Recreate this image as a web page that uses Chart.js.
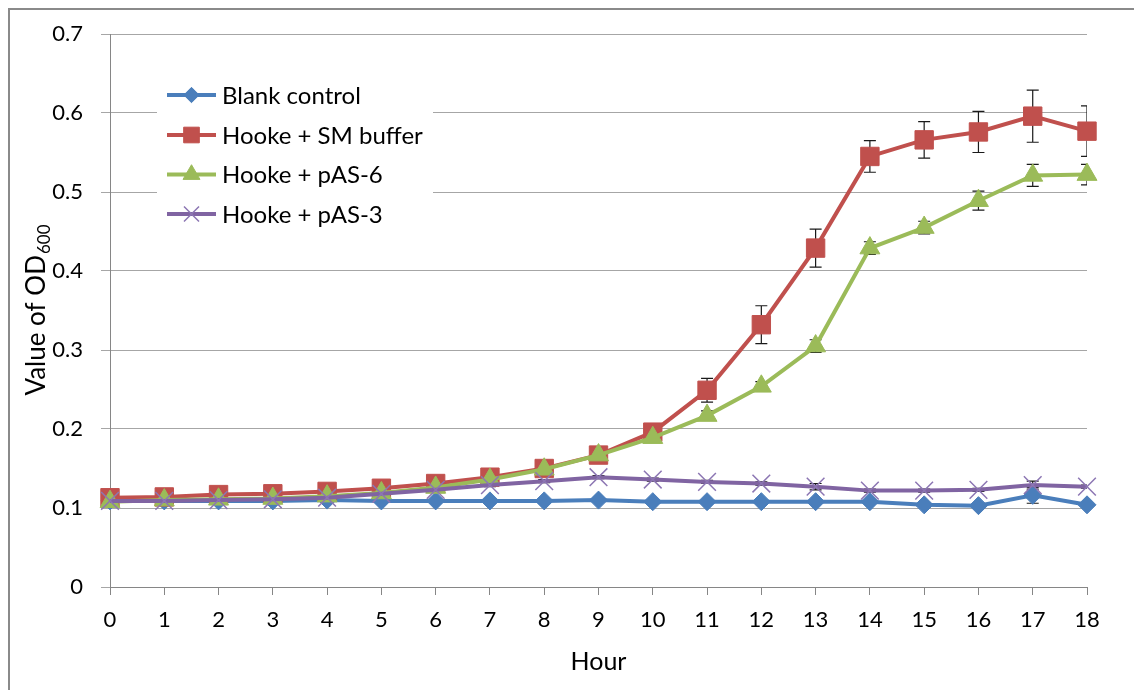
<!DOCTYPE html>
<html>
<head>
<meta charset="utf-8">
<title>OD600 growth curves</title>
<script src="https://cdn.jsdelivr.net/npm/chart.js@4/dist/chart.umd.min.js"></script>
<style>
  html, body { margin: 0; padding: 0; background: #ffffff; }
  #wrap { position: relative; width: 1134px; height: 690px; }
</style>
</head>
<body>
<div id="wrap"><canvas id="growth" width="1134" height="690"></canvas></div>
<script>
// Sampling times (hours)
const hours = ['0','1','2','3','4','5','6','7','8','9','10','11','12','13','14','15','16','17','18'];

// Y-axis tick values
const yTicks = [0, 0.1, 0.2, 0.3, 0.4, 0.5, 0.6, 0.7];

// Series names
const seriesNames = ['Blank control', 'Hooke + SM buffer', 'Hooke + pAS-6', 'Hooke + pAS-3'];

// Mean OD600 per series
const blankControl = [0.109,0.109,0.109,0.109,0.110,0.109,0.109,0.109,0.109,0.110,0.108,0.108,0.108,0.108,0.108,0.104,0.103,0.116,0.104];
const hookeSM      = [0.113,0.114,0.117,0.118,0.121,0.125,0.131,0.139,0.150,0.167,0.196,0.249,0.332,0.429,0.545,0.566,0.576,0.596,0.577];
const hookePAS6    = [0.108,0.110,0.111,0.112,0.115,0.119,0.126,0.136,0.149,0.167,0.189,0.217,0.254,0.305,0.429,0.455,0.489,0.521,0.522];
const hookePAS3    = [0.109,0.109,0.110,0.111,0.113,0.118,0.123,0.129,0.134,0.139,0.136,0.133,0.131,0.127,0.122,0.122,0.123,0.129,0.127];

// Standard deviations (error bars)
const blankErr = [0.002,0.002,0.002,0.002,0.002,0.002,0.002,0.002,0.002,0.002,0.002,0.002,0.002,0.002,0.002,0.002,0.002,0.010,0.002];
const smErr    = [0.002,0.002,0.002,0.002,0.002,0.003,0.003,0.003,0.004,0.004,0.005,0.015,0.024,0.024,0.020,0.023,0.026,0.033,0.032];
const pas6Err  = [0.002,0.002,0.002,0.002,0.002,0.002,0.003,0.003,0.003,0.004,0.004,0.006,0.006,0.008,0.008,0.008,0.012,0.014,0.013];
const pas3Err  = [0.002,0.002,0.002,0.002,0.002,0.002,0.002,0.002,0.002,0.002,0.002,0.002,0.002,0.004,0.002,0.002,0.002,0.005,0.002];

const FONT = 'Lato, "Open Sans", "DejaVu Sans", sans-serif';
const GRID = '#a6a6a6';
const AXIS = '#868686';

function series(label, data, errors, color, style, radius, order, markerColor, markerBorder) {
  return {
    label, data, errors,
    borderColor: color,
    backgroundColor: markerColor || color,
    borderWidth: 4,
    pointStyle: style,
    pointRadius: radius,
    pointHoverRadius: radius,
    pointBackgroundColor: markerColor || color,
    pointBorderColor: markerColor || color,
    pointBorderWidth: markerBorder,
    tension: 0,
    clip: false,
    order
  };
}

// Outer frame around the whole figure
const framePlugin = {
  id: 'frame',
  beforeDraw(chart) {
    const ctx = chart.ctx;
    ctx.save();
    ctx.fillStyle = '#ffffff';
    ctx.fillRect(0, 0, chart.width, chart.height);
    ctx.strokeStyle = '#8a8a8a';
    ctx.lineWidth = 2;
    ctx.strokeRect(9, 9, chart.width + 20, chart.height + 20);
    ctx.restore();
  }
};

// Vertical error bars with caps, clipped to the plot area
const errorBarPlugin = {
  id: 'errorBars',
  beforeDatasetsDraw(chart) {
    const ctx = chart.ctx;
    const area = chart.chartArea;
    const x = chart.scales.x, y = chart.scales.y;
    ctx.save();
    ctx.beginPath();
    ctx.rect(area.left, area.top, area.right - area.left, area.bottom - area.top);
    ctx.clip();
    ctx.strokeStyle = '#1a1a1a';
    ctx.lineWidth = 1.2;
    chart.data.datasets.forEach(ds => {
      ds.data.forEach((v, i) => {
        const e = ds.errors[i];
        const px = x.getPixelForValue(i);
        const top = y.getPixelForValue(v + e);
        const bot = y.getPixelForValue(v - e);
        ctx.beginPath();
        ctx.moveTo(px, top); ctx.lineTo(px, bot);
        ctx.moveTo(px - 6, top); ctx.lineTo(px + 6, top);
        ctx.moveTo(px - 6, bot); ctx.lineTo(px + 6, bot);
        ctx.stroke();
      });
    });
    ctx.restore();
  }
};

// Y-axis title with subscripted wavelength
const yTitlePlugin = {
  id: 'yTitle',
  afterDraw(chart) {
    const ctx = chart.ctx;
    const area = chart.chartArea;
    const main = 'Value of OD', sub = '600';
    ctx.save();
    ctx.translate(37, (area.top + area.bottom) / 2);
    ctx.rotate(-Math.PI / 2);
    ctx.fillStyle = '#000000';
    ctx.textBaseline = 'middle';
    ctx.textAlign = 'left';
    ctx.font = '26px ' + FONT;
    const w1 = ctx.measureText(main).width;
    ctx.font = '17px ' + FONT;
    const w2 = ctx.measureText(sub).width;
    const start = -(w1 + w2) / 2;
    ctx.font = '26px ' + FONT;
    ctx.fillText(main, start, 0);
    ctx.font = '17px ' + FONT;
    ctx.fillText(sub, start + w1 + 1, 8);
    ctx.restore();
  }
};

// Legend box drawn inside the plot area
const boxLegendPlugin = {
  id: 'boxLegend',
  afterDraw(chart) {
    const ctx = chart.ctx;
    const rows = [95, 135, 174.5, 214];
    ctx.save();
    ctx.fillStyle = '#ffffff';
    ctx.fillRect(157, 76, 276, 160);
    chart.data.datasets.forEach((ds, i) => {
      const cy = rows[i];
      ctx.strokeStyle = ds.borderColor;
      ctx.lineWidth = 4;
      ctx.beginPath();
      ctx.moveTo(167, cy); ctx.lineTo(216, cy);
      ctx.stroke();
      ctx.fillStyle = ds.pointBackgroundColor;
      ctx.strokeStyle = ds.pointBorderColor;
      ctx.lineWidth = ds.pointBorderWidth;
      Chart.helpers.drawPoint(ctx, {
        pointStyle: ds.pointStyle,
        radius: ds.pointRadius * 0.85,
        borderWidth: ds.pointBorderWidth,
        rotation: 0
      }, 191.5, cy);
      ctx.fillStyle = '#000000';
      ctx.font = '24px ' + FONT;
      ctx.textBaseline = 'middle';
      ctx.textAlign = 'left';
      ctx.fillText(ds.label, 222, cy + 1);
    });
    ctx.restore();
  }
};

function build() {
  Chart.defaults.font.family = FONT;
  Chart.defaults.color = '#000000';

  new Chart(document.getElementById('growth'), {
    type: 'line',
    data: {
      labels: hours,
      datasets: [
        series(seriesNames[0], blankControl, blankErr, '#4a7ebb', 'rectRot', 9, 3, '#4a7ebb', 1),
        series(seriesNames[1], hookeSM, smErr, '#c0504d', 'rect', 13, 2, '#c0504d', 1),
        series(seriesNames[2], hookePAS6, pas6Err, '#9bbb59', 'triangle', 11.5, 1, '#9bbb59', 1),
        series(seriesNames[3], hookePAS3, pas3Err, '#8064a2', 'crossRot', 12.5, 0, '#8c76b3', 1.5)
      ]
    },
    options: {
      responsive: false,
      animation: false,
      events: [],
      layout: { padding: { left: 0, right: 47, top: 34, bottom: 0 } },
      plugins: {
        legend: { display: false },
        tooltip: { enabled: false }
      },
      scales: {
        x: {
          type: 'category',
          offset: false,
          afterFit(scale) { scale.height = 103; },
          grid: { drawOnChartArea: false, drawTicks: true, tickLength: 8, color: AXIS },
          border: { display: true, color: AXIS, width: 1 },
          ticks: { font: { size: 22 }, padding: 12, maxRotation: 0, autoSkip: false },
          title: { display: true, text: 'Hour', font: { size: 25 }, padding: { top: 0, bottom: 13 } }
        },
        y: {
          min: 0,
          max: 0.7,
          afterFit(scale) { scale.width = 110; },
          afterBuildTicks(scale) { scale.ticks = yTicks.map(v => ({ value: v })); },
          grid: { color: GRID, tickLength: 9, drawTicks: true },
          border: { display: true, color: AXIS, width: 1 },
          ticks: {
            font: { size: 22 },
            padding: 18,
            callback: v => (v === 0 ? '0' : v.toFixed(1))
          }
        }
      }
    },
    plugins: [framePlugin, errorBarPlugin, yTitlePlugin, boxLegendPlugin]
  });
}

if (document.fonts && document.fonts.load) {
  document.fonts.load('22px Lato').then(build, build);
} else {
  build();
}
</script>
</body>
</html>
